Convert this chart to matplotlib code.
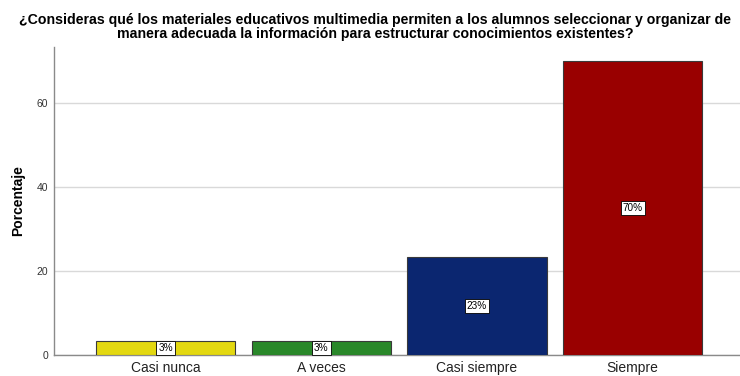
import matplotlib
matplotlib.use("Agg")
import matplotlib.pyplot as plt

categories = ["Casi nunca", "A veces", "Casi siempre", "Siempre"]
percentages = [3.33, 3.33, 23.33, 70.0]
bar_colors = ["#E3D810", "#2A882A", "#0B2670", "#990000"]
y_ticks = [0, 20, 40, 60]
title = ("¿Consideras qué los materiales educativos multimedia permiten a los alumnos seleccionar y organizar de\n"
         "manera adecuada la información para estructurar conocimientos existentes?")

plt.rcParams["font.family"] = ["Liberation Sans", "DejaVu Sans"]

fig = plt.figure(figsize=(7.4, 3.76), dpi=100)
ax = fig.add_axes([54 / 740, 1 - 355 / 376, (740 - 54) / 740, (355 - 47) / 376])

x = list(range(len(categories)))
ax.bar(x, percentages, width=0.895, color=bar_colors, edgecolor="#3a3a3a", linewidth=0.8, zorder=3)

for xi, v in zip(x, percentages):
    ax.text(xi, v / 2, f"{v:.0f}%", ha="center", va="center", fontsize=7.2, color="black", zorder=4,
            bbox=dict(boxstyle="square,pad=0.2", facecolor="white", edgecolor="black", linewidth=0.6))

ax.set_xlim(-0.717, 3.69)
ax.set_ylim(0, 73.3)
ax.set_yticks(y_ticks)
ax.set_xticks(x)
ax.set_xticklabels(categories, fontsize=10, color="#222222")
ax.tick_params(axis="y", labelsize=7.5, colors="#333333", length=0, pad=4)
ax.tick_params(axis="x", length=0, pad=4)
ax.grid(axis="y", color="#d9d9d9", linewidth=1.0, zorder=0)

for side in ["top", "right"]:
    ax.spines[side].set_visible(False)
for side in ["left", "bottom"]:
    ax.spines[side].set_color("#8a8a8a")
    ax.spines[side].set_linewidth(1.0)

ax.set_ylabel("Porcentaje", fontsize=10, fontweight="bold")
ax.yaxis.set_label_coords(-(54 - 25) / 686, 0.5)
fig.text(375 / 740, 1 - 27 / 376, title, ha="center", va="center", fontsize=10.2, fontweight="bold",
         linespacing=1.0)

fig.savefig("out.png", dpi=100)
